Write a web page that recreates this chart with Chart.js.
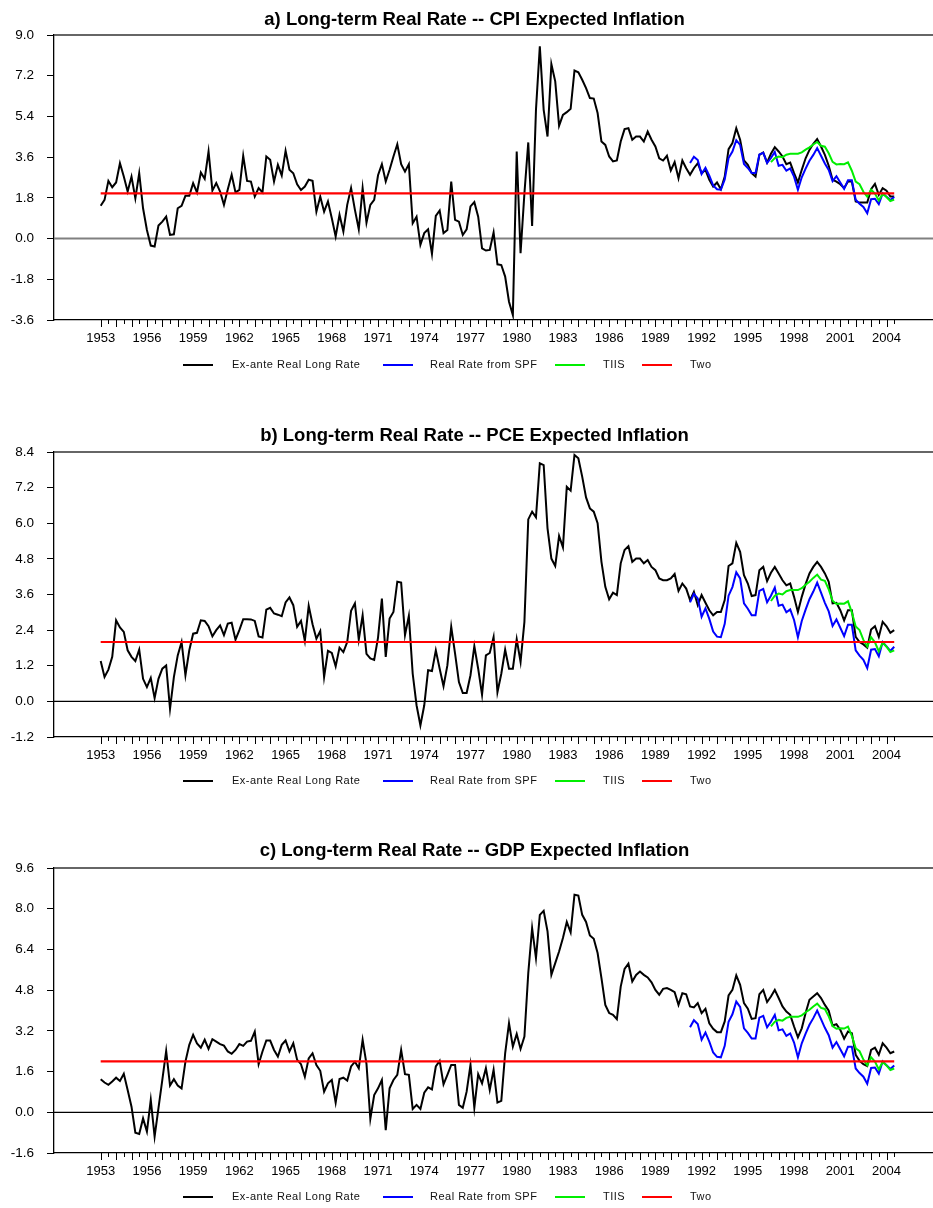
<!DOCTYPE html>
<html>
<head>
<meta charset="utf-8">
<script src="https://cdn.jsdelivr.net/npm/chart.js@4.4.1/dist/chart.umd.min.js"></script>
<style>
  html, body { margin: 0; padding: 0; background: #fff; overflow: hidden; width: 933px; height: 1208px; }
  canvas { position: absolute; left: 0; display: block; }
</style>
</head>
<body>
<canvas id="cpi" width="933" height="417" style="top:0px"></canvas>
<canvas id="pce" width="933" height="416" style="top:417px"></canvas>
<canvas id="gdp" width="933" height="375" style="top:833px"></canvas>
<script>
// Quarterly observations, first one is 1953Q1
const FIRST_YEAR = 1953;
const yearLabels = ['1953','1956','1959','1962','1965','1968','1971','1974','1977','1980',
                    '1983','1986','1989','1992','1995','1998','2001','2004'];

// Ex-ante real long rate, CPI expected inflation (1953Q1 - 2004Q3)
const exAnteCPI = [
  1.45,1.71,2.55,2.27,2.48,3.33,2.74,2.08,2.74,1.78,
  2.89,1.34,0.38,-0.31,-0.35,0.58,0.75,0.97,0.16,0.19,
  1.34,1.45,1.89,1.89,2.45,2.04,2.92,2.64,3.85,2.12,
  2.45,2.08,1.49,2.18,2.82,2.04,2.15,3.66,2.55,2.52,
  1.86,2.23,2.04,3.63,3.48,2.52,3.26,2.79,3.88,3.04,
  2.89,2.40,2.15,2.30,2.60,2.55,1.19,1.86,1.19,1.64,
  0.90,0.09,1.05,0.31,1.49,2.23,1.27,0.41,2.23,0.70,
  1.49,1.71,2.80,3.29,2.52,3.04,3.63,4.17,3.29,2.96,
  3.29,0.68,0.97,-0.28,0.24,0.41,-0.68,1.00,1.24,0.24,
  0.38,2.52,0.83,0.75,0.16,0.41,1.42,1.61,0.97,-0.43,
  -0.53,-0.50,0.27,-1.14,-1.17,-1.68,-2.79,-3.38,3.85,-0.65,
  2.00,4.25,0.56,5.69,8.50,5.69,4.51,7.71,6.95,4.99,
  5.47,5.59,5.74,7.43,7.35,7.02,6.65,6.21,6.19,5.55,
  4.29,4.14,3.63,3.41,3.45,4.29,4.84,4.88,4.37,4.51,
  4.51,4.29,4.73,4.37,4.07,3.55,3.45,3.66,3.01,3.38,
  2.67,3.45,3.11,2.82,3.11,3.33,2.89,3.04,2.60,2.30,
  2.48,2.18,2.74,3.95,4.22,4.88,4.37,3.45,3.26,2.89,
  2.74,3.70,3.81,3.36,3.75,4.04,3.85,3.63,3.29,3.36,
  2.89,2.48,3.04,3.55,3.92,4.19,4.40,4.07,3.70,3.22,
  2.60,2.52,2.40,2.23,2.52,2.52,1.64,1.59,1.59,1.59,
  2.18,2.42,1.93,2.23,2.12,1.86,1.86
];

// Ex-ante real long rate, PCE expected inflation
const exAntePCE = [
  1.36,0.82,1.07,1.50,2.73,2.49,2.34,1.72,1.50,1.36,
  1.74,0.76,0.48,0.79,0.11,0.76,1.10,1.21,-0.25,0.82,
  1.55,2.00,0.88,1.72,2.28,2.31,2.73,2.71,2.53,2.19,
  2.40,2.56,2.23,2.62,2.65,2.08,2.40,2.77,2.77,2.76,
  2.71,2.19,2.15,3.09,3.15,2.96,2.92,2.87,3.33,3.50,
  3.24,2.51,2.71,2.04,3.22,2.60,2.11,2.37,0.82,1.70,
  1.63,1.18,1.81,1.66,2.00,3.05,3.30,2.08,2.90,1.60,
  1.45,1.40,2.15,3.46,1.50,2.79,3.01,4.03,4.00,2.23,
  2.88,0.93,-0.13,-0.81,-0.13,1.05,1.02,1.72,1.10,0.51,
  1.21,2.51,1.61,0.65,0.28,0.28,0.88,1.86,1.10,0.22,
  1.55,1.63,2.17,0.31,0.93,1.74,1.10,1.10,2.09,1.33,
  2.68,6.13,6.39,6.20,8.02,7.96,5.83,4.81,4.56,5.57,
  5.19,7.23,7.10,8.30,8.19,7.57,6.87,6.50,6.39,6.00,
  4.70,3.86,3.44,3.66,3.58,4.65,5.10,5.23,4.70,4.81,
  4.81,4.65,4.76,4.53,4.42,4.14,4.08,4.08,4.14,4.29,
  3.72,3.97,3.80,3.41,3.69,3.24,3.58,3.32,3.07,2.90,
  3.01,3.01,3.41,4.56,4.65,5.34,5.04,4.25,3.97,3.55,
  3.58,4.42,4.53,4.05,4.33,4.53,4.31,4.08,3.91,3.97,
  3.52,3.01,3.52,3.95,4.31,4.53,4.70,4.53,4.31,4.03,
  3.30,3.32,3.07,2.73,3.07,3.07,2.17,2.00,1.92,1.81,
  2.42,2.53,2.17,2.68,2.53,2.31,2.40
];

// Ex-ante real long rate, GDP deflator expected inflation
const exAnteGDP = [
  1.30,1.17,1.08,1.21,1.36,1.23,1.51,0.88,0.22,-0.80,
  -0.85,-0.24,-0.76,0.49,-0.96,0.16,1.27,2.41,1.05,1.30,
  1.05,0.94,1.99,2.65,3.04,2.71,2.54,2.85,2.49,2.87,
  2.78,2.68,2.62,2.39,2.30,2.45,2.68,2.61,2.78,2.81,
  3.17,1.89,2.39,2.82,2.82,2.45,2.19,2.65,2.82,2.39,
  2.71,2.06,1.89,1.40,2.12,2.32,1.86,1.63,0.81,1.14,
  1.27,0.38,1.31,1.36,1.25,1.80,1.99,1.73,2.85,1.90,
  -0.26,0.68,0.94,1.27,-0.70,0.94,1.27,1.47,2.45,1.50,
  1.47,0.13,0.29,0.13,0.77,0.98,0.90,1.80,2.02,1.10,
  1.47,1.86,1.86,0.29,0.18,0.81,1.86,0.18,1.50,1.14,
  1.73,0.88,1.67,0.38,0.45,2.32,3.50,2.58,3.08,2.49,
  2.98,5.47,7.24,6.06,7.76,7.92,7.11,5.40,5.86,6.32,
  6.85,7.48,7.07,8.55,8.52,7.76,7.48,6.95,6.82,6.26,
  5.27,4.22,3.90,3.83,3.66,4.94,5.63,5.84,5.14,5.40,
  5.53,5.40,5.30,5.11,4.81,4.62,4.85,4.88,4.81,4.72,
  4.22,4.68,4.64,4.16,4.12,4.29,3.90,4.07,3.50,3.28,
  3.15,3.15,3.57,4.59,4.81,5.38,5.01,4.29,4.07,3.67,
  3.70,4.64,4.81,4.33,4.55,4.81,4.49,4.16,3.96,3.83,
  3.37,2.95,3.30,3.90,4.42,4.55,4.68,4.49,4.22,3.99,
  3.41,3.46,3.24,2.89,3.17,3.11,2.26,2.02,1.89,1.82,
  2.45,2.54,2.26,2.71,2.54,2.32,2.39
];

// Real rate from SPF inflation expectations, starts 1991Q2
const spfStart = '1991Q2';
const spfReal = [
  3.34,3.62,3.47,2.85,3.13,2.78,2.35,2.18,2.16,2.61,
  3.56,3.85,4.35,4.14,3.30,3.12,2.90,2.90,3.72,3.79,
  3.34,3.56,3.83,3.22,3.26,3.00,3.10,2.74,2.16,2.71,
  3.09,3.44,3.70,4.00,3.66,3.32,3.03,2.54,2.76,2.48,
  2.20,2.58,2.58,1.72,1.54,1.40,1.12,1.74,1.76,1.52,
  2.00,1.85,1.70,1.84
];

// Treasury inflation-indexed securities yield, starts 1996Q3
const tiisStart = '1996Q3';
const tiis = [
  3.38,3.56,3.63,3.60,3.71,3.75,3.75,3.75,3.81,3.93,
  4.03,4.16,4.27,4.10,4.06,3.77,3.39,3.28,3.30,3.29,
  3.37,3.00,2.52,2.40,2.07,1.85,2.16,1.99,1.68,1.98,
  1.84,1.66,1.72
];

// Constant two-percent reference level
const twoLevel = 2.0;

const seriesNames = ['Ex-ante Real Long Rate', 'Real Rate from SPF', 'TIIS', 'Two'];
const seriesColors = ['#000000', '#0000ff', '#00ee00', '#ff0000'];

const FONT = '"Liberation Sans", Arial, Helvetica, sans-serif';

function quarterIndex(label) {
  const y = parseInt(label.slice(0, 4), 10);
  const q = parseInt(label.slice(5), 10);
  return (y - FIRST_YEAR) * 4 + (q - 1);
}
function toPoints(values, start) {
  return values.map((v, i) => ({ x: start + i, y: v }));
}

const LAST_INDEX = exAnteCPI.length - 1;
const X_MIN = -12.12;
const X_MAX = 216.07;
const PLOT_TOP = 35;
const PLOT_BOTTOM = 320;

// legend slots: sample line start and text start
const legendSlots = [
  { lineX: 183, textX: 232 },
  { lineX: 383, textX: 430 },
  { lineX: 555, textX: 603 },
  { lineX: 642, textX: 690 }
];

const panelDecor = {
  id: 'panelDecor',
  beforeDatasetsDraw(chart, args, opts) {
    const { ctx, chartArea, scales } = chart;
    ctx.save();
    // zero line
    const y0 = scales.y.getPixelForValue(0);
    ctx.strokeStyle = opts.zeroColor;
    ctx.lineWidth = opts.zeroWidth;
    ctx.beginPath();
    ctx.moveTo(chartArea.left, y0);
    ctx.lineTo(chartArea.right, y0);
    ctx.stroke();
    ctx.restore();
  },
  afterDraw(chart, args, opts) {
    const { ctx, chartArea, scales } = chart;
    ctx.save();
    // top frame line
    ctx.strokeStyle = '#333';
    ctx.lineWidth = 1.3;
    ctx.beginPath();
    ctx.moveTo(chartArea.left, chartArea.top);
    ctx.lineTo(chartArea.right, chartArea.top);
    ctx.stroke();

    // x tick marks: long at each year, short at mid-year
    ctx.strokeStyle = '#000';
    ctx.lineWidth = 1;
    scales.x.ticks.forEach(t => {
      const px = Math.round(scales.x.getPixelForValue(t.value)) + 0.5;
      const len = (t.value % 4 === 0) ? 7 : 4;
      ctx.beginPath();
      ctx.moveTo(px, chartArea.bottom);
      ctx.lineTo(px, chartArea.bottom + len);
      ctx.stroke();
    });

    // title
    ctx.fillStyle = '#000';
    ctx.font = 'bold 18.5px ' + FONT;
    ctx.textAlign = 'center';
    ctx.textBaseline = 'middle';
    ctx.fillText(opts.title, 474.5, opts.titleY);

    // legend
    ctx.font = '11px ' + FONT;
    ctx.textAlign = 'left';
    ctx.textBaseline = 'middle';
    if ('letterSpacing' in ctx) ctx.letterSpacing = '0.5px';
    const ly = opts.legendY;
    seriesNames.forEach((name, i) => {
      const slot = legendSlots[i];
      ctx.strokeStyle = seriesColors[i];
      ctx.lineWidth = 2;
      ctx.beginPath();
      ctx.moveTo(slot.lineX, ly);
      ctx.lineTo(slot.lineX + 30, ly);
      ctx.stroke();
      ctx.fillStyle = '#111';
      ctx.fillText(name, slot.textX, ly);
    });
    ctx.restore();
  }
};

function makePanel(canvasId, title, exAnte, yMin, yMax, step, zeroColor, zeroWidth, titleY, legendY) {
  const canvas = document.getElementById(canvasId);
  const H = canvas.height;
  const spfFirst = quarterIndex(spfStart);
  const tiisFirst = quarterIndex(tiisStart);
  return new Chart(canvas, {
    type: 'line',
    data: {
      datasets: [
        { label: seriesNames[3], data: [{ x: 0, y: twoLevel }, { x: LAST_INDEX, y: twoLevel }],
          borderColor: seriesColors[3], borderWidth: 2.2, order: 1 },
        { label: seriesNames[2], data: toPoints(tiis, tiisFirst),
          borderColor: seriesColors[2], borderWidth: 2, order: 2 },
        { label: seriesNames[1], data: toPoints(spfReal, spfFirst),
          borderColor: seriesColors[1], borderWidth: 2, order: 3 },
        { label: seriesNames[0], data: toPoints(exAnte, 0),
          borderColor: seriesColors[0], borderWidth: 2, order: 4 }
      ]
    },
    options: {
      responsive: false,
      animation: false,
      events: [],
      devicePixelRatio: 1,
      layout: { padding: { top: PLOT_TOP, left: 0, right: 0, bottom: 0 } },
      elements: {
        point: { radius: 0 },
        line: { tension: 0, fill: false, borderJoinStyle: 'miter' }
      },
      plugins: {
        legend: { display: false },
        title: { display: false },
        tooltip: { enabled: false },
        panelDecor: { title, zeroColor, zeroWidth, titleY, legendY }
      },
      scales: {
        x: {
          type: 'linear',
          min: X_MIN,
          max: X_MAX,
          grid: { display: false },
          border: { display: true, color: '#000', width: 1.3 },
          ticks: {
            autoSkip: false,
            maxRotation: 0,
            minRotation: 0,
            padding: 3,
            color: '#000',
            font: { family: FONT, size: 13 },
            callback: (v) => (v % 12 === 0 ? yearLabels[v / 12] : '')
          },
          afterBuildTicks: (scale) => {
            const t = [];
            for (let v = 0; v <= LAST_INDEX; v += 2) t.push({ value: v });
            scale.ticks = t;
          },
          afterFit: (scale) => {
            scale.height = H - PLOT_BOTTOM;
            scale.paddingLeft = 0;
            scale.paddingRight = 0;
          }
        },
        y: {
          min: yMin,
          max: yMax,
          grid: { display: true, drawOnChartArea: false, drawTicks: true, tickLength: 7, color: '#000', lineWidth: 1 },
          border: { display: true, color: '#000', width: 1.3 },
          ticks: {
            stepSize: step,
            padding: 13,
            color: '#000',
            font: { family: FONT, size: 13.5 },
            callback: (v) => (Math.abs(v) < 1e-9 ? 0 : Number(v)).toFixed(1)
          },
          afterFit: (scale) => {
            scale.width = 54;
            scale.paddingTop = 0;
            scale.paddingBottom = 0;
          }
        }
      }
    },
    plugins: [panelDecor]
  });
}

makePanel('cpi', 'a) Long-term Real Rate -- CPI Expected Inflation', exAnteCPI, -3.6, 9.0, 1.8, '#808080', 2, 20, 365);
makePanel('pce', 'b) Long-term Real Rate -- PCE Expected Inflation', exAntePCE, -1.2, 8.4, 1.2, '#000', 1.2, 19, 364);
makePanel('gdp', 'c) Long-term Real Rate -- GDP Expected Inflation', exAnteGDP, -1.6, 9.6, 1.6, '#000', 1.2, 18, 364);
</script>
</body>
</html>
